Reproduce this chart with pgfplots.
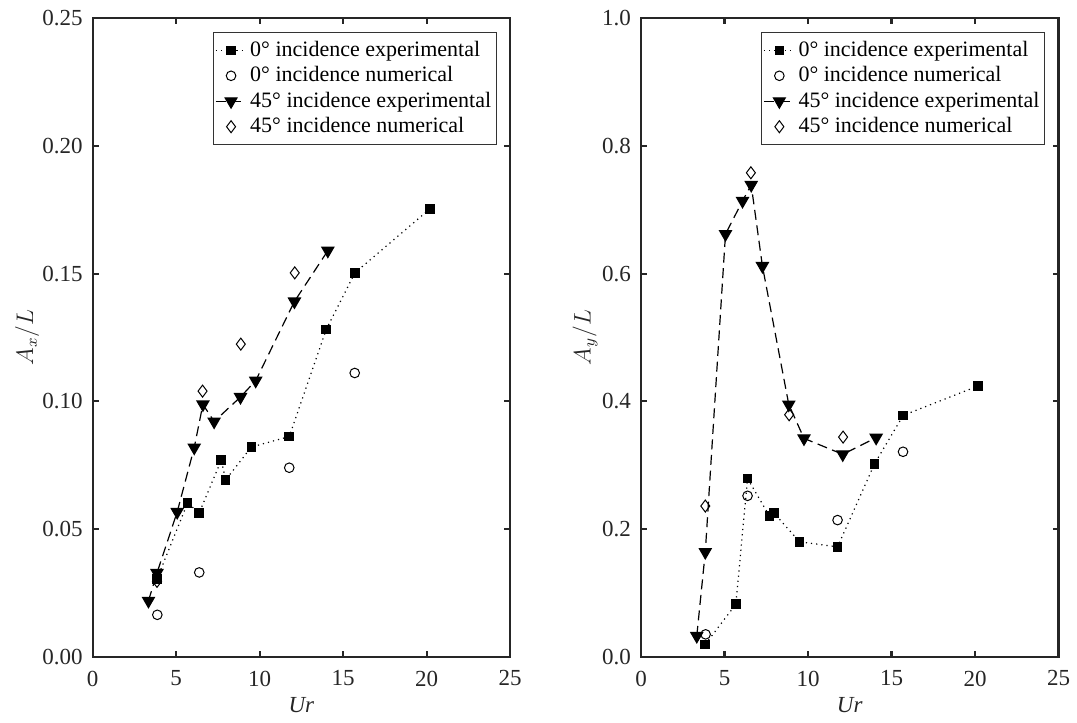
\documentclass[border=0pt]{standalone}
\usepackage{pgfplots}
\pgfplotsset{compat=1.18}
\usepackage{fontspec}
\setmainfont{Liberation Serif}

\pgfplotsset{
  myaxis/.style={
    scale only axis,
    width=208.75pt, height=319.2pt,
    xmin=0, xmax=25,
    xtick={0,5,10,15,20,25},
    tick align=inside,
    tick pos=both,
    major tick length=3pt,
    axis line style={line width=1.1pt, black!85},
    every tick/.style={line width=1.1pt, black!85},
    /pgf/number format/assume math mode=true,
    tick label style={font=\fontsize{11.5}{14}\selectfont, text=black!85},
    xticklabel style={yshift=-3.5pt},
    yticklabel style={xshift=-1.5pt},
    label style={font=\fontsize{11.5}{14}\selectfont, text=black!85},
    xlabel={\textit{Ur}},
    xlabel style={at={(axis description cs:0.5,-0.0757)}, anchor=center},
    legend style={
      font=\fontsize{11}{13}\selectfont,
      draw=black!80, line width=0.5pt,
      at={(axis description cs:0.968,0.979)}, anchor=north east,
      cells={anchor=west},
      row sep=-0.4pt,
      inner xsep=1pt, inner ysep=2.5pt,
      nodes={inner xsep=1.6pt},
    },
    legend image code/.code={
      \draw[mark repeat=2,mark phase=2]
        plot coordinates {(0cm,0cm) (0.27cm,0cm) (0.54cm,0cm)};
    },
  },
  sqexp/.style={black, line width=0.6pt, dotted, mark=square*, mark size=2.1pt, mark options={solid, fill=black}},
  cnum/.style={black, only marks, mark=o, mark size=2.4pt, mark options={solid, line width=0.5pt}},
  texp/.style={black, line width=0.6pt, dash pattern=on 5pt off 2.8pt, mark=triangle*, mark size=3.4pt, mark options={solid, fill=black, rotate=180}},
  dnum/.style={black, only marks, mark=diamond, mark size=3pt, mark options={solid, line width=0.5pt}},
}

\begin{document}
\begin{tikzpicture}
% Left: A_x / L
\begin{axis}[myaxis,
  at={(0pt,0pt)}, anchor=south west,
  ymin=0, ymax=0.25,
  ytick={0,0.05,0.10,0.15,0.20,0.25},
  yticklabel style={/pgf/number format/fixed, /pgf/number format/fixed zerofill, /pgf/number format/precision=2},
  ylabel={$A_x/L$},
  ylabel style={at={(axis description cs:-0.157,0.5)}, anchor=center},
]
\addplot[sqexp] coordinates {(3.85,0.0304) (5.68,0.0602) (6.38,0.0563) (7.70,0.0770) (7.96,0.0692) (9.50,0.0821) (11.77,0.0862) (13.98,0.1281) (15.70,0.1503) (20.18,0.1753)};
\addlegendentry{0° incidence experimental}
\addplot[cnum] coordinates {(3.87,0.0164) (6.38,0.0330) (11.77,0.0740) (15.69,0.1111)};
\addlegendentry{0° incidence numerical}
\addplot[texp] coordinates {(3.34,0.0219) (3.85,0.0328) (5.06,0.0567) (6.08,0.0819) (6.60,0.0988) (7.27,0.0921) (8.85,0.1017) (9.76,0.1081) (12.08,0.1391) (14.08,0.1590)};
\addlegendentry{45° incidence experimental}
\addplot[dnum] coordinates {(3.85,0.0295) (6.58,0.1040) (8.87,0.1224) (12.10,0.1503)};
\addlegendentry{45° incidence numerical}
\end{axis}

% Right: A_y / L
\begin{axis}[myaxis,
  at={(274.15pt,0pt)}, anchor=south west,
  ymin=0, ymax=1,
  ytick={0,0.2,0.4,0.6,0.8,1.0},
  yticklabel style={/pgf/number format/fixed, /pgf/number format/fixed zerofill, /pgf/number format/precision=1},
  ylabel={$A_y/L$},
  ylabel style={at={(axis description cs:-0.134,0.5)}, anchor=center},
]
\addplot[sqexp] coordinates {(3.85,0.0194) (5.68,0.0822) (6.38,0.279) (7.70,0.220) (7.96,0.225) (9.50,0.180) (11.77,0.172) (13.98,0.302) (15.70,0.378) (20.18,0.424)};
\addlegendentry{0° incidence experimental}
\addplot[cnum] coordinates {(3.87,0.035) (6.38,0.252) (11.77,0.214) (15.69,0.321)};
\addlegendentry{0° incidence numerical}
\addplot[texp] coordinates {(3.34,0.0325) (3.85,0.164) (5.06,0.662) (6.08,0.714) (6.60,0.739) (7.27,0.612) (8.85,0.395) (9.76,0.342) (12.08,0.317) (14.08,0.343)};
\addlegendentry{45° incidence experimental}
\addplot[dnum] coordinates {(3.85,0.236) (6.58,0.758) (8.87,0.379) (12.10,0.344)};
\addlegendentry{45° incidence numerical}
\end{axis}

\pgfresetboundingbox
\path[use as bounding box] (-46.35pt,-33.15pt) rectangle (492.15pt,328.35pt);
\end{tikzpicture}
\end{document}
